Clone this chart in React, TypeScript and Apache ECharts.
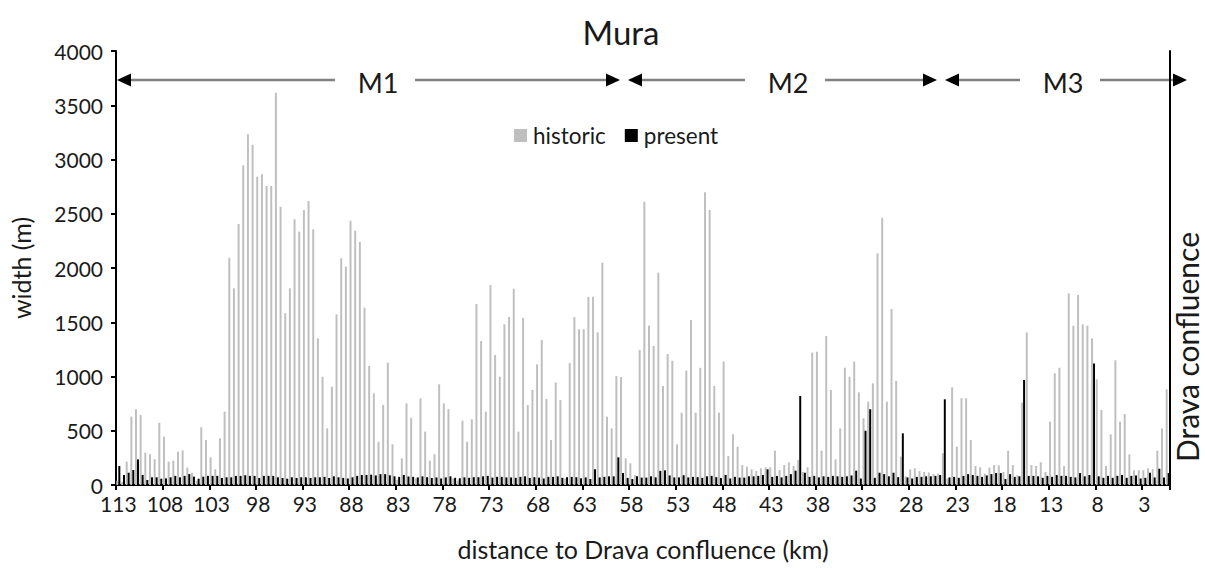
import React, { useEffect, useRef } from "react";
import * as echarts from "echarts";

// distance to Drava confluence (km), 0.5 km steps from 113 down to 0.5
const categories: string[] = Array.from({ length: 226 }, (_, i) => String(113 - i * 0.5));

const historic: number[] = [
  40, 30, 215, 630, 698, 645, 298, 283, 237, 574,
  445, 215, 224, 307, 319, 160, 113, 40, 532, 415,
  255, 145, 430, 676, 2095, 1813, 2405, 2946, 3232, 3137,
  2842, 2863, 2756, 2756, 3616, 2565, 1582, 1813, 2449, 2335,
  2535, 2618, 2357, 1352, 998, 522, 906, 1573, 2089, 2012,
  2436, 2344, 2240, 1634, 1097, 845, 399, 737, 1127, 375,
  50, 246, 753, 620, 60, 799, 492, 224, 283, 928,
  753, 700, 60, 40, 593, 399, 605, 1668, 1327, 676,
  1843, 1198, 998, 1481, 1548, 1809, 492, 1539, 737, 876,
  1112, 1336, 793, 415, 946, 783, 60, 1124, 1548, 1435,
  1435, 1735, 1735, 1407, 2049, 630, 522, 1004, 995, 246,
  200, 90, 1244, 2611, 1468, 1281, 1957, 912, 1207, 1146,
  375, 667, 1054, 1521, 667, 1081, 2698, 2535, 912, 667,
  1137, 267, 467, 353, 184, 169, 145, 129, 154, 163,
  163, 316, 138, 184, 209, 175, 230, 120, 163, 1220,
  1229, 316, 1373, 876, 237, 522, 1081, 998, 1137, 854,
  615, 768, 937, 2135, 2464, 768, 1622, 959, 261, 80,
  145, 154, 129, 120, 115, 100, 105, 292, 60, 900,
  353, 799, 799, 415, 175, 163, 105, 160, 184, 181,
  120, 316, 184, 90, 759, 1407, 184, 175, 209, 120,
  584, 1029, 1081, 175, 1767, 1468, 1751, 1481, 1468, 1352,
  974, 691, 175, 467, 1149, 584, 654, 283, 136, 136,
  136, 154, 145, 316, 522, 882,
];

const present: number[] = [
  175, 92, 113, 138, 236, 92, 46, 71, 71, 58,
  61, 71, 84, 71, 84, 101, 77, 58, 77, 84,
  84, 84, 65, 71, 71, 84, 84, 90, 84, 84,
  65, 84, 84, 84, 71, 65, 58, 71, 65, 71,
  71, 65, 71, 71, 75, 65, 80, 71, 65, 60,
  71, 84, 92, 92, 95, 88, 100, 100, 90, 80,
  75, 92, 78, 75, 70, 80, 72, 65, 70, 60,
  70, 80, 66, 62, 70, 66, 72, 72, 80, 84,
  68, 75, 75, 70, 70, 66, 75, 80, 65, 72,
  68, 60, 75, 75, 80, 66, 72, 75, 72, 62,
  70, 55, 145, 70, 75, 80, 80, 255, 110, 65,
  55, 80, 68, 68, 80, 70, 130, 135, 88, 70,
  70, 90, 70, 75, 72, 66, 80, 84, 72, 65,
  92, 60, 75, 68, 68, 80, 80, 84, 92, 145,
  75, 84, 70, 84, 100, 132, 820, 113, 75, 84,
  70, 80, 75, 84, 80, 75, 80, 88, 132, 60,
  500, 698, 66, 113, 100, 80, 113, 72, 476, 70,
  60, 75, 75, 80, 80, 84, 92, 790, 70, 75,
  66, 84, 100, 92, 84, 75, 88, 100, 110, 110,
  55, 100, 75, 80, 968, 84, 84, 80, 66, 84,
  75, 92, 84, 84, 75, 70, 110, 80, 92, 1120,
  80, 66, 84, 66, 84, 92, 66, 84, 88, 60,
  66, 113, 70, 150, 70, 110,
];

// reach segments (annotation arrows): label, left tip x, right tip x, label x
const segmentNames = ["M1", "M2", "M3"];
const segmentLeft = [117, 628, 945];
const segmentRight = [620, 937, 1187];
const segmentLabelX = [378, 788, 1063];

const FONT = "Lato, 'Liberation Sans', sans-serif";
const TXT = "#1a1a1a";

function buildArrows(): any[] {
  const out: any[] = [];
  const y = 80;
  const head = 14;
  const half = 6.5;
  const gapHalf = 30;
  segmentNames.forEach((name, i) => {
    const l = segmentLeft[i];
    const r = segmentRight[i];
    const c = segmentLabelX[i];
    out.push({
      type: "polygon",
      shape: { points: [[l, y], [l + head, y - half], [l + head, y + half]] },
      style: { fill: "#000" },
    });
    out.push({
      type: "polygon",
      shape: { points: [[r, y], [r - head, y - half], [r - head, y + half]] },
      style: { fill: "#000" },
    });
    out.push({
      type: "line",
      shape: { x1: l + head, y1: y, x2: c - gapHalf - 13, y2: y },
      style: { stroke: "#808080", lineWidth: 2.5 },
    });
    out.push({
      type: "line",
      shape: { x1: c + gapHalf + 7, y1: y, x2: r - head, y2: y },
      style: { stroke: "#808080", lineWidth: 2.5 },
    });
    out.push({
      type: "text",
      x: c,
      y: y + 2,
      style: {
        text: name,
        fontSize: 27,
        fontFamily: FONT,
        fill: TXT,
        align: "center",
        verticalAlign: "middle",
      },
    });
  });
  return out;
}

export default function App() {
  const ref = useRef<HTMLDivElement>(null);
  useEffect(() => {
    if (!ref.current) return;
    const chart = echarts.init(ref.current, undefined, { renderer: "svg" });
    chart.setOption({
      animation: false,
      backgroundColor: "#ffffff",
      grid: { left: 115, right: 35, top: 51, bottom: 83, containLabel: false },
      legend: {
        left: 509,
        top: 119,
        itemWidth: 13,
        itemHeight: 13,
        itemGap: 19,
        icon: "rect",
        textStyle: { fontSize: 22.5, fontFamily: FONT, color: TXT, padding: [0, 0, 0, 1] },
        data: ["historic", "present"],
      },
      xAxis: {
        type: "category",
        data: categories,
        boundaryGap: true,
        name: "distance to Drava confluence (km)",
        nameLocation: "middle",
        nameGap: 51,
        nameTextStyle: { fontSize: 25, fontFamily: FONT, color: TXT },
        axisLine: { show: true, lineStyle: { color: "#000", width: 2 } },
        axisTick: { show: true, interval: 9, length: 5, lineStyle: { color: "#000", width: 2 } },
        axisLabel: { interval: 9, fontSize: 21, fontFamily: FONT, color: TXT, margin: 8 },
        splitLine: { show: false },
      },
      yAxis: [
        {
          type: "value",
          min: 0,
          max: 4000,
          interval: 500,
          name: "width (m)",
          nameLocation: "middle",
          nameGap: 83,
          nameRotate: 90,
          nameTextStyle: { fontSize: 25, fontFamily: FONT, color: TXT },
          axisLine: { show: true, lineStyle: { color: "#000", width: 2 } },
          axisTick: { show: true, length: 5, lineStyle: { color: "#000", width: 2 } },
          axisLabel: {
            fontSize: 21,
            fontFamily: FONT,
            color: TXT,
            margin: 13,
            formatter: (v: number) => String(v),
          },
          splitLine: { show: false },
        },
        {
          type: "value",
          min: 0,
          max: 4000,
          interval: 500,
          position: "right",
          axisLine: { show: true, lineStyle: { color: "#000", width: 2 } },
          axisTick: { show: false },
          axisLabel: { show: false },
          splitLine: { show: false },
        },
      ],
      series: [
        {
          name: "historic",
          type: "bar",
          data: historic,
          itemStyle: { color: "#bfbfbf" },
          barGap: "0%",
          barCategoryGap: "15%",
        },
        {
          name: "present",
          type: "bar",
          data: present,
          itemStyle: { color: "#000000" },
          barGap: "0%",
          barCategoryGap: "15%",
        },
      ],
      graphic: [
        {
          type: "text",
          x: 621,
          y: 32,
          style: {
            text: "Mura",
            fontSize: 33,
            fontFamily: FONT,
            fill: TXT,
            align: "center",
            verticalAlign: "middle",
          },
        },
        {
          type: "text",
          x: 1187,
          y: 347,
          rotation: Math.PI / 2,
          style: {
            text: "Drava confluence",
            fontSize: 30,
            fontFamily: FONT,
            fill: TXT,
            align: "center",
            verticalAlign: "middle",
          },
        },
        ...buildArrows(),
      ],
    });
    return () => chart.dispose();
  }, []);
  return (
    <div
      ref={ref}
      style={{ position: "absolute", left: 0, top: 0, width: 1205, height: 568 }}
    />
  );
}
